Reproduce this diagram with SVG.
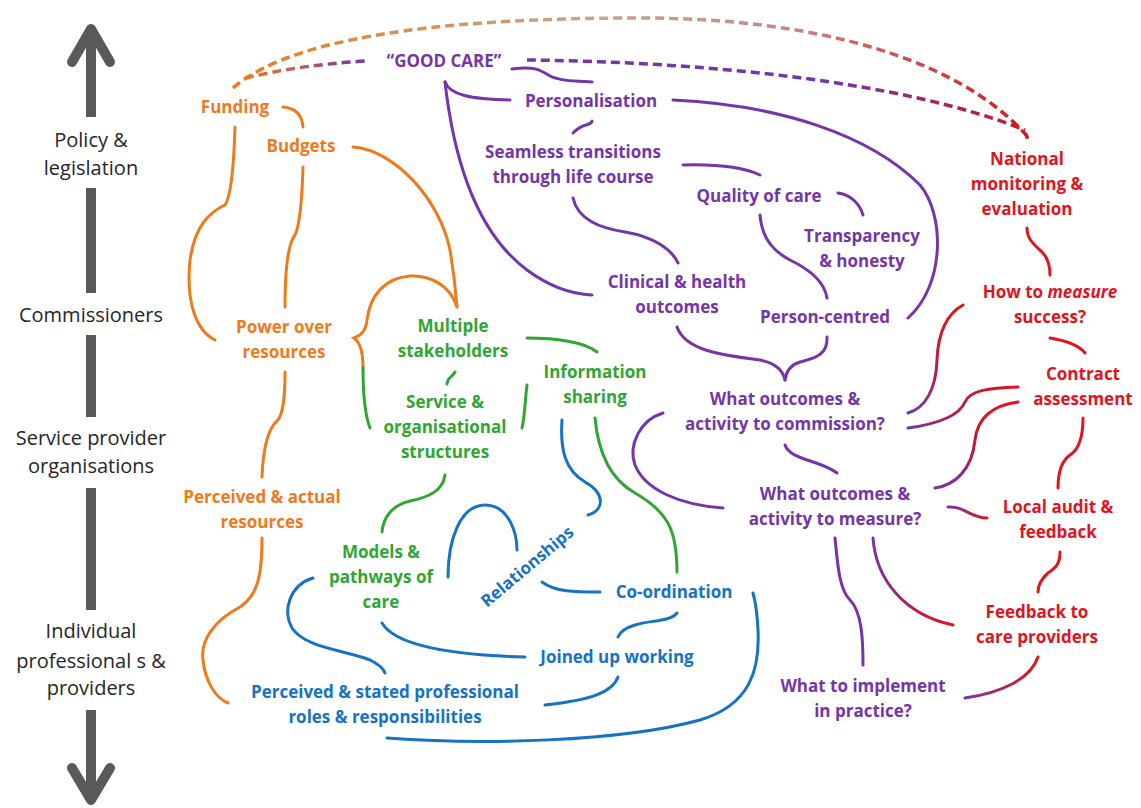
<svg xmlns="http://www.w3.org/2000/svg" width="1141" height="808" viewBox="0 0 1141 808">
<style>
.ax{font-family:"Open Sans","Liberation Sans",sans-serif;font-size:20px;fill:#262626;text-anchor:middle}
.n{font-family:"Open Sans","Liberation Sans",sans-serif;font-weight:bold;font-size:17px;text-anchor:middle}
.or{fill:#EE7A1C}.gr{fill:#2FA631}.pu{fill:#7535A8}.bl{fill:#1572C4}.rd{fill:#E0141E}
.c{fill:none;stroke-width:3;stroke-linecap:round}
.d{fill:none;stroke-width:3.5;stroke-dasharray:9 5}
.so{stroke:#EE7A1C}.sg{stroke:#2FA631}.sp{stroke:#7535A8}.sb{stroke:#1572C4}.sr{stroke:#E0141E}
.bar{fill:#595959}
.head{fill:none;stroke:#595959;stroke-width:10;stroke-linecap:round;stroke-linejoin:round}
</style>
<defs>
<linearGradient id="gArc" gradientUnits="userSpaceOnUse" x1="233" y1="0" x2="1027" y2="0">
<stop offset="0" stop-color="#EE7A1C"/><stop offset="0.45" stop-color="#C7A48C"/><stop offset="0.7" stop-color="#C9868A"/><stop offset="1" stop-color="#D4141E"/>
</linearGradient>
<linearGradient id="gOP" gradientUnits="userSpaceOnUse" x1="245" y1="0" x2="365" y2="0">
<stop offset="0" stop-color="#EE7A1C"/><stop offset="1" stop-color="#7535A8"/>
</linearGradient>
<linearGradient id="gPR" gradientUnits="userSpaceOnUse" x1="527" y1="0" x2="1025" y2="0">
<stop offset="0" stop-color="#7535A8"/><stop offset="0.6" stop-color="#7535A8"/><stop offset="1" stop-color="#D4141E"/>
</linearGradient>
<linearGradient id="gRPv" gradientUnits="userSpaceOnUse" x1="0" y1="305" x2="0" y2="413">
<stop offset="0" stop-color="#E0141E"/><stop offset="0.5" stop-color="#C0183A"/><stop offset="1" stop-color="#7535A8"/>
</linearGradient>
<linearGradient id="gRPh" gradientUnits="userSpaceOnUse" x1="1018" y1="0" x2="908" y2="0">
<stop offset="0" stop-color="#E0141E"/><stop offset="0.5" stop-color="#C0183A"/><stop offset="1" stop-color="#7535A8"/>
</linearGradient>
<linearGradient id="gRP2" gradientUnits="userSpaceOnUse" x1="0" y1="402" x2="0" y2="488">
<stop offset="0" stop-color="#E0141E"/><stop offset="0.5" stop-color="#C0183A"/><stop offset="1" stop-color="#7535A8"/>
</linearGradient>
<linearGradient id="gPR2" gradientUnits="userSpaceOnUse" x1="948" y1="0" x2="987" y2="0">
<stop offset="0" stop-color="#7535A8"/><stop offset="1" stop-color="#E0141E"/>
</linearGradient>
<linearGradient id="gPR3" gradientUnits="userSpaceOnUse" x1="0" y1="538" x2="0" y2="625">
<stop offset="0" stop-color="#7535A8"/><stop offset="0.6" stop-color="#8A2A80"/><stop offset="1" stop-color="#E0141E"/>
</linearGradient>
<linearGradient id="gPR4" gradientUnits="userSpaceOnUse" x1="965" y1="0" x2="1038" y2="0">
<stop offset="0" stop-color="#7535A8"/><stop offset="1" stop-color="#E0141E"/>
</linearGradient>
</defs>
<rect width="1141" height="808" fill="#ffffff"/>

<g id="axis">
<rect class="bar" x="86" y="35" width="10" height="82"/>
<polyline class="head" points="72,62 91,29 110,62"/>
<text class="ax" x="91" y="147">Policy &amp;</text>
<text class="ax" x="91" y="175">legislation</text>
<rect class="bar" x="86" y="188" width="10" height="105"/>
<text class="ax" x="91" y="322">Commissioners</text>
<rect class="bar" x="86" y="335" width="10" height="82"/>
<text class="ax" x="91" y="445">Service provider</text>
<text class="ax" x="91" y="473">organisations</text>
<rect class="bar" x="86" y="488" width="10" height="122"/>
<text class="ax" x="91" y="638">Individual</text>
<text class="ax" x="91" y="668">professional s &amp;</text>
<text class="ax" x="91" y="695">providers</text>
<rect class="bar" x="86" y="710" width="10" height="85"/>
<polyline class="head" points="72,768 91,800 110,768"/>
</g>

<g id="connectors">
<path class="d" stroke="url(#gArc)" d="M233,88 C300,30 480,18 640,18 C820,18 960,60 1027,136"/>
<path class="d" stroke="url(#gOP)" d="M245,78 Q300,65 365,61"/>
<path class="d" stroke="url(#gPR)" d="M527,60 C700,62 900,80 1025,130"/>
<circle cx="1027" cy="137" r="2" fill="#D4141E"/>

<path class="c sp" d="M512,69 C535,66 540,70 550,76 C560,81 575,81 592,82"/>
<path class="c sp" d="M445,82 C450,95 470,99 510,100"/>
<path class="c sp" d="M445,82 C455,170 480,235 527,270 C550,287 570,294 592,295"/>
<path class="c sp" d="M673,100 C780,105 870,135 920,185 C945,215 945,285 908,318"/>
<path class="c sp" d="M573,133 C578,128 582,126 586,125 C590,124 592,122 592,121"/>
<path class="c sp" d="M683,165 C720,164 745,168 760,175"/>
<path class="c sp" d="M573,198 C578,220 600,228 625,232 C655,237 672,250 678,263"/>
<path class="c sp" d="M838,193 C852,195 860,205 863,215"/>
<path class="c sp" d="M760,215 C762,240 775,252 790,260 C815,272 825,285 827,298"/>
<path class="c sp" d="M677,327 C685,350 720,355 760,360 C775,363 783,370 785,380"/>
<path class="c sp" d="M827,337 C828,355 815,358 800,362 C790,365 786,372 785,380"/>
<path class="c sp" d="M663,413 C640,420 628,445 635,465 C645,490 680,505 723,508"/>
<path class="c sp" d="M785,445 C790,460 820,460 837,473"/>
<path class="c sp" d="M835,538 C838,570 840,590 850,600 C862,612 863,640 863,665"/>
<path class="c" stroke="url(#gPR3)" d="M873,538 C876,580 905,615 953,625"/>
<path class="c" stroke="url(#gPR4)" d="M965,698 C1000,693 1030,680 1038,657"/>

<path class="c sr" d="M1027,228 C1027,240 1035,245 1042,252 C1048,258 1050,266 1050,275"/>
<path class="c" stroke="url(#gRPv)" d="M963,305 C945,315 938,335 937,360 C936,390 925,408 908,413"/>
<path class="c sr" d="M1050,338 C1062,340 1078,344 1085,353"/>
<path class="c" stroke="url(#gRPh)" d="M1018,387 C990,388 970,390 965,402 C958,418 930,425 908,428"/>
<path class="c" stroke="url(#gRP2)" d="M1018,402 C995,405 978,415 975,440 C972,470 955,485 935,488"/>
<path class="c sr" d="M1083,418 C1083,440 1078,450 1070,455 C1060,462 1058,475 1058,488"/>
<path class="c" stroke="url(#gPR2)" d="M948,507 C965,506 970,518 987,518"/>
<path class="c sr" d="M1060,552 C1060,565 1055,568 1048,573 C1040,580 1038,588 1038,592"/>

<path class="c so" d="M283,107 C295,108 302,115 303,127"/>
<path class="c so" d="M235,127 C234,160 232,195 225,205 C210,212 195,225 190,260 C186,300 195,330 215,340"/>
<path class="c so" d="M303,167 C302,200 300,225 295,235 C287,245 285,275 285,307"/>
<path class="c so" d="M353,147 C395,150 440,200 450,250 C455,280 456,295 457,307"/>
<path class="c so" d="M457,307 C450,285 430,275 410,276 C385,278 370,295 367,320 C366,332 360,336 354,338 C360,342 363,350 363,368"/>
<path class="c sg" d="M363,368 C363,395 365,415 370,428"/>
<path class="c so" d="M285,372 C285,400 283,413 278,420 C268,428 263,450 262,477"/>
<path class="c so" d="M262,538 C262,575 258,595 240,607 C215,620 200,640 203,660 C205,680 215,698 228,703"/>

<path class="c sg" d="M527,338 C555,338 585,342 597,352"/>
<path class="c sg" d="M455,372 C452,378 448,376 447,384"/>
<path class="c sg" d="M527,385 C525,400 525,415 522,428"/>
<path class="c sg" d="M445,475 C443,490 430,497 410,501 C392,505 383,518 382,532"/>
<path class="c sg" d="M595,418 C598,450 608,478 635,493 C668,512 677,530 677,572"/>

<path class="c sb" d="M562,420 C560,450 565,470 585,482 C605,493 605,510 588,515"/>
<path class="c sb" d="M448,577 C448,540 460,505 485,505 C510,505 517,535 517,550"/>
<path class="c sb" d="M542,582 C555,592 575,592 600,592"/>
<path class="c sb" d="M677,613 C670,622 650,620 635,625 C625,628 620,632 618,637"/>
<path class="c sb" d="M382,623 C395,645 450,655 525,657"/>
<path class="c sb" d="M618,677 C612,693 590,700 545,705"/>
<path class="c sb" d="M387,738 C480,745 620,742 700,720 C750,705 760,670 758,630 C757,610 755,600 753,593"/>
<path class="c sb" d="M313,578 C290,585 282,610 292,628 C305,648 345,650 370,660 C380,665 384,670 385,673"/>
</g>

<g id="good-care"><text class="n pu" x="444" y="67">“GOOD CARE”</text></g>
<g id="personalisation"><text class="n pu" x="591" y="107">Personalisation</text></g>
<g id="seamless"><text class="n pu" x="573" y="158">Seamless transitions</text><text class="n pu" x="573" y="183">through life course</text></g>
<g id="quality"><text class="n pu" x="759" y="202">Quality of care</text></g>
<g id="transparency"><text class="n pu" x="862" y="242">Transparency</text><text class="n pu" x="862" y="267">&amp; honesty</text></g>
<g id="clinical"><text class="n pu" x="677" y="288">Clinical &amp; health</text><text class="n pu" x="677" y="313">outcomes</text></g>
<g id="person-centred"><text class="n pu" x="825" y="323">Person-centred</text></g>
<g id="commission"><text class="n pu" x="785" y="405">What outcomes &amp;</text><text class="n pu" x="785" y="430">activity to commission?</text></g>
<g id="measure"><text class="n pu" x="835" y="500">What outcomes &amp;</text><text class="n pu" x="835" y="525">activity to measure?</text></g>
<g id="implement"><text class="n pu" x="863" y="692">What to implement</text><text class="n pu" x="863" y="717">in practice?</text></g>

<g id="national"><text class="n rd" x="1027" y="165">National</text><text class="n rd" x="1027" y="190">monitoring &amp;</text><text class="n rd" x="1027" y="215">evaluation</text></g>
<g id="how-to-measure"><text class="n rd" x="1050" y="298">How to <tspan font-style="italic">measure</tspan></text><text class="n rd" x="1050" y="323">success?</text></g>
<g id="contract"><text class="n rd" x="1083" y="380">Contract</text><text class="n rd" x="1083" y="405">assessment</text></g>
<g id="local-audit"><text class="n rd" x="1058" y="513">Local audit &amp;</text><text class="n rd" x="1058" y="538">feedback</text></g>
<g id="feedback-providers"><text class="n rd" x="1037" y="618">Feedback to</text><text class="n rd" x="1037" y="643">care providers</text></g>

<g id="funding"><text class="n or" x="235" y="113">Funding</text></g>
<g id="budgets"><text class="n or" x="301" y="152">Budgets</text></g>
<g id="power"><text class="n or" x="284" y="333">Power over</text><text class="n or" x="284" y="358">resources</text></g>
<g id="perceived-actual"><text class="n or" x="262" y="503">Perceived &amp; actual</text><text class="n or" x="262" y="528">resources</text></g>

<g id="stakeholders"><text class="n gr" x="453" y="332">Multiple</text><text class="n gr" x="453" y="357">stakeholders</text></g>
<g id="information"><text class="n gr" x="595" y="378">Information</text><text class="n gr" x="595" y="403">sharing</text></g>
<g id="structures"><text class="n gr" x="445" y="408">Service &amp;</text><text class="n gr" x="445" y="433">organisational</text><text class="n gr" x="445" y="458">structures</text></g>
<g id="models"><text class="n gr" x="381" y="558">Models &amp;</text><text class="n gr" x="381" y="583">pathways of</text><text class="n gr" x="381" y="608">care</text></g>

<g id="relationships"><text class="n bl" transform="translate(531,571) rotate(-40)">Relationships</text></g>
<g id="coordination"><text class="n bl" x="674" y="598">Co-ordination</text></g>
<g id="joined"><text class="n bl" x="617" y="663">Joined up working</text></g>
<g id="roles"><text class="n bl" x="385" y="698">Perceived &amp; stated professional</text><text class="n bl" x="385" y="723">roles &amp; responsibilities</text></g>
</svg>
